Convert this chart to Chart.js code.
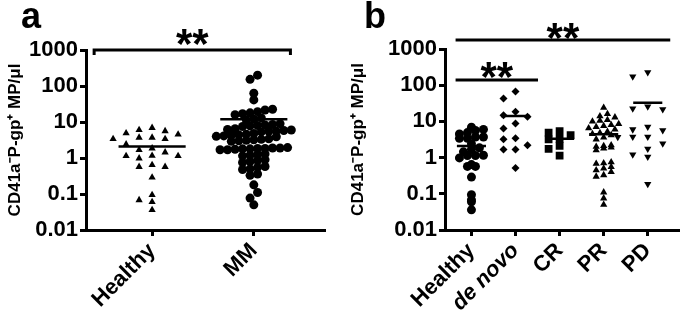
<!DOCTYPE html>
<html>
<head>
<meta charset="utf-8">
<script src="https://cdn.jsdelivr.net/npm/chart.js@4/dist/chart.umd.min.js"></script>
<style>
    body { margin: 0; background: #fff; }
    canvas { position: absolute; top: 0; }
</style>
</head>
<body>
<canvas id="chartA" width="343" height="319" style="left:0"></canvas>
<canvas id="chartB" width="342" height="319" style="left:343px"></canvas>
<script>
// 分组
const groupsA = ['Healthy', 'MM'];
const groupsB = ['Healthy', 'de novo', 'CR', 'PR', 'PD'];
const yTicks = [0.01, 0.1, 1, 10, 100, 1000];

// 各组数值 (MP/μl)
const healthyVals = [6.9, 4.9, 3.4, 2.4, 1.44, 0.98, 0.57, 0.036, 4.5, 1.14, 3.7, 1.86, 1.16,
    0.57, 0.29, 0.068, 6.0, 3.7, 1.67, 0.64, 0.094, 0.06, 5.6, 3.4, 1.14];
const mmVals = [200, 153, 63, 41,
    22.6, 21.5, 19.4, 18, 17, 16,
    13, 12, 11.5,
    9, 8.5, 8.3, 8, 7.8, 7.5,
    6.5, 6.2, 6, 5.8, 5.6, 5.5, 5.3,
    4.8, 4.6, 4.4, 4.3, 4.1, 4, 3.9,
    3.4, 3.3, 3.2, 3.1, 3, 2.9,
    1.95, 1.9, 1.9, 1.85, 1.85, 1.8, 1.8, 1.75, 1.7, 1.7,
    1.3, 1.25, 1.2, 1.15,
    0.9, 0.85, 0.8, 0.75,
    0.58, 0.55, 0.5, 0.48,
    0.36, 0.33,
    0.18, 0.11, 0.077, 0.05];
const deNovoVals = [67, 43, 18.6, 14.7, 13.5, 8.8, 6.4, 3.4, 3.2, 2.2, 1.67, 1.67, 0.52];
const crVals = [5.4, 4.9, 4.2, 3.3, 3.2, 2.1, 1.75, 1.14];
const prVals = [24, 16, 14, 13, 11, 10.5, 10, 8.5, 8, 7.5, 7, 6.5, 6, 5.2, 4.8, 4.5, 4.2, 3.6,
    3.2, 2.2, 2.1, 2.0, 1.9, 1.8, 1.6, 0.75, 0.7, 0.68, 0.55, 0.5, 0.45, 0.4, 0.33, 0.3,
    0.11, 0.075, 0.05];
const pdVals = [226, 174, 25.6, 22.6, 21.5, 7.1, 6.0, 5.7, 3.76, 3.76, 3.67, 2.45, 1.74,
    1.21, 1.05, 0.186];

// 均值横线
const meanA = [2.1, 12];
const meanB = [2.1, 14, 3.3, 4.4, 33];

const FONT = '"Liberation Sans", Arial, sans-serif';

// 散点组样式
// rows: 按行分箱 (bin 行高), 同行点间距 gap
// cols: 按列排开, 同列上下最小间距 minDy, 列距 gap
const seriesA = [
    { vals: healthyVals, style: 'triangle', radius: 4.2, rotation: 0, mode: 'cols', minDy: 7, gap: 13 },
    { vals: mmVals, style: 'circle', radius: 4.5, rotation: 0, mode: 'rows', bin: 7, gap: 7.5 }
];
const seriesB = [
    { vals: healthyVals, style: 'circle', radius: 4.5, rotation: 0, mode: 'rows', bin: 6, gap: 8 },
    { vals: deNovoVals, style: 'rectRot', radius: 4, rotation: 0, mode: 'cols', minDy: 7, gap: 12 },
    { vals: crVals, style: 'rect', radius: 5.5, rotation: 0, mode: 'cols', minDy: 5, gap: 11 },
    { vals: prVals, style: 'triangle', radius: 4.2, rotation: 0, mode: 'rows', bin: 6, gap: 7.5 },
    { vals: pdVals, style: 'triangle', radius: 4.2, rotation: 180, mode: 'cols', minDy: 7, gap: 15 }
];

// 标注 (括号 + 星号)
const bracketsA = [{ x1: -0.57, x2: 1.36, y: 1000, ends: true, label: '**', lift: 14 }];
const bracketsB = [
    { x1: -0.36, x2: 4.51, y: 1780, ends: false, label: '**', lift: 10 },
    { x1: -0.36, x2: 1.51, y: 140, ends: false, label: '**', lift: 11 }
];

function buildDatasets(series, means) {
    const sets = series.map((s, i) => ({
        type: 'scatter',
        data: s.vals.map(v => ({ x: i, y: v })),
        pointStyle: s.style,
        pointRadius: s.radius,
        pointHoverRadius: s.radius,
        rotation: s.rotation,
        backgroundColor: '#000',
        borderColor: '#000',
        borderWidth: 0
    }));
    means.forEach((m, i) => {
        sets.push({
            type: 'line',
            data: [{ x: i - 0.33, y: m }, { x: i + 0.33, y: m }],
            borderColor: '#000',
            borderWidth: 2.5,
            pointRadius: 0
        });
    });
    return sets;
}

// 计算每个点的横向偏移 (像素)
function swarm(chart, series) {
    const xs = chart.scales.x, ys = chart.scales.y;
    const pxPerUnit = Math.abs(xs.getPixelForValue(1) - xs.getPixelForValue(0));
    series.forEach((s, i) => {
        const data = chart.data.datasets[i].data;
        const setPoint = (k, off) => { data[k] = { x: i + off / pxPerUnit, y: s.vals[k] }; };
        if (s.mode === 'rows') {
            const rows = {};
            s.vals.forEach((v, k) => {
                const r = Math.round(ys.getPixelForValue(v) / s.bin);
                (rows[r] = rows[r] || []).push(k);
            });
            Object.values(rows).forEach(ks => {
                ks.sort((a, b) => s.vals[a] - s.vals[b]);
                ks.forEach((k, j) => setPoint(k, (j - (ks.length - 1) / 2) * s.gap));
            });
        } else {
            const placed = [];
            const order = s.vals.map((v, k) => k).sort((a, b) => s.vals[b] - s.vals[a]);
            order.forEach(k => {
                const py = ys.getPixelForValue(s.vals[k]);
                let col = 0;
                for (let n = 0; n < 20; n++) {
                    const c = (n % 2 ? -1 : 1) * Math.ceil(n / 2);
                    if (placed.every(p => p.col !== c || Math.abs(p.y - py) >= s.minDy)) { col = c; break; }
                }
                placed.push({ col: col, y: py });
                setPoint(k, col * s.gap);
            });
        }
    });
    chart.update('none');
}

const annotate = {
    id: 'annotate',
    afterDraw(chart, args, opts) {
        const ctx = chart.ctx;
        const xs = chart.scales.x, ys = chart.scales.y;
        ctx.save();
        ctx.fillStyle = '#000';
        ctx.strokeStyle = '#000';
        ctx.font = 'bold 36px ' + FONT;
        ctx.textBaseline = 'alphabetic';
        ctx.textAlign = 'left';
        ctx.fillText(opts.letter, 21, 28);
        opts.brackets.forEach(b => {
            const x1 = xs.getPixelForValue(b.x1), x2 = xs.getPixelForValue(b.x2);
            const y = Math.round(ys.getPixelForValue(b.y));
            ctx.lineWidth = 3;
            ctx.beginPath();
            if (b.ends) {
                ctx.moveTo(x1, y + 5); ctx.lineTo(x1, y); ctx.lineTo(x2, y); ctx.lineTo(x2, y + 5);
            } else {
                ctx.moveTo(x1, y); ctx.lineTo(x2, y);
            }
            ctx.stroke();
            ctx.font = 'bold 42px ' + FONT;
            ctx.textAlign = 'center';
            ctx.fillText(b.label, (x1 + x2) / 2, y - b.lift + 22);
        });
        ctx.restore();
    }
};

function makeChart(id, cats, series, means, xMin, xMax, leftW, pad, letter, brackets) {
    const chart = new Chart(document.getElementById(id), {
        type: 'scatter',
        data: { datasets: buildDatasets(series, means) },
        options: {
            responsive: false,
            animation: false,
            devicePixelRatio: 1,
            layout: { padding: pad },
            plugins: {
                legend: { display: false },
                tooltip: { enabled: false },
                annotate: { letter: letter, brackets: brackets }
            },
            scales: {
                x: {
                    type: 'linear',
                    min: xMin,
                    max: xMax,
                    afterBuildTicks: s => { s.ticks = cats.map((c, i) => ({ value: i })); },
                    afterFit: s => { s.height = 89; },
                    grid: { display: true, drawOnChartArea: false, drawTicks: true, tickLength: 6, tickWidth: 3, tickColor: '#000' },
                    border: { display: true, width: 3, color: '#000' },
                    ticks: {
                        autoSkip: false,
                        minRotation: 45,
                        maxRotation: 45,
                        padding: 2,
                        color: '#000',
                        font: c => ({ family: FONT, size: 22, weight: 'bold', style: cats[c.index] === 'de novo' ? 'italic' : 'normal' }),
                        callback: (v, i) => cats[i]
                    }
                },
                y: {
                    type: 'logarithmic',
                    min: 0.01,
                    max: 1000,
                    afterBuildTicks: s => { s.ticks = yTicks.map(v => ({ value: v })); },
                    afterFit: s => { s.width = leftW; },
                    grid: { display: true, drawOnChartArea: false, drawTicks: true, tickLength: 6, tickWidth: 3, tickColor: '#000' },
                    border: { display: true, width: 3, color: '#000' },
                    ticks: {
                        padding: 2,
                        color: '#000',
                        font: { family: FONT, size: 22, weight: 'bold' },
                        callback: v => String(v)
                    },
                    title: {
                        display: true,
                        text: 'CD41a⁻P-gp⁺ MP/μl',
                        color: '#000',
                        padding: { top: 5, bottom: 0 },
                        font: { family: FONT, size: 17, weight: 'bold' }
                    }
                }
            }
        },
        plugins: [annotate]
    });
    swarm(chart, series);
    return chart;
}

document.addEventListener('DOMContentLoaded', function() {
    makeChart('chartA', groupsA, seriesA, meanA, -0.65, 1.7, 86, { top: 50, right: 18, left: 0, bottom: 0 }, 'a', bracketsA);
    makeChart('chartB', groupsB, seriesB, meanB, -0.6, 4.72, 102, { top: 49, right: 0, left: 0, bottom: 0 }, 'b', bracketsB);
});
</script>
</body>
</html>
